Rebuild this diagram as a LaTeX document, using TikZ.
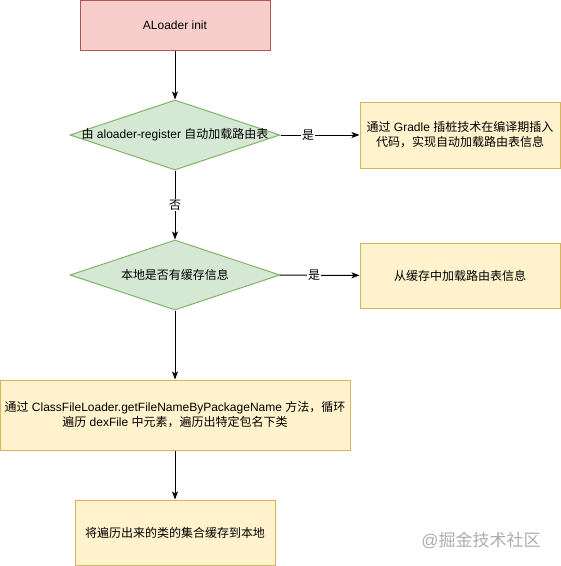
\documentclass[tikz,border=0pt]{standalone}
\usepackage{fontspec}
\setmainfont{Liberation Sans}
\newfontfamily\cjk{Noto Sans CJK SC}
\newcommand{\zh}[1]{{\cjk #1}}
\usepackage{xcolor}
\usepackage{tikz}
\usetikzlibrary{positioning,arrows.meta,shapes.geometric}

\definecolor{startfill}{HTML}{F8CECC}
\definecolor{startdraw}{HTML}{B85450}
\definecolor{askfill}{HTML}{D5E8D4}
\definecolor{askdraw}{HTML}{82B366}
\definecolor{notefill}{HTML}{FFF2CC}
\definecolor{notedraw}{HTML}{D6B656}

\begin{document}
\begin{tikzpicture}[
    x=1pt, y=-1pt,
    font=\fontsize{12pt}{15pt}\selectfont,
    startbox/.style={draw=startdraw, fill=startfill, line width=1pt, minimum width=190pt, minimum height=50pt},
    decision/.style={diamond, draw=askdraw, fill=askfill, line width=1pt, aspect=3, inner sep=0pt, minimum width=210pt, minimum height=70pt},
    notebox/.style={draw=notedraw, fill=notefill, line width=1pt, minimum width=200pt, minimum height=65pt, align=center},
    connector/.style={-{Stealth[length=8pt, width=6pt, inset=2pt]}, line width=1pt},
    edgelabel/.style={fill=white, inner sep=1pt}
]
\useasboundingbox (0,0) rectangle (561,566);

% Start
\node[startbox] (init) at (175,25) {ALoader init};

% First decision - register plugin
\node[decision] (askreg) at (175,135) {};
\node (askregtext) at (askreg) {\zh{由} aloader-register \zh{自动加载路由表}};
\node[notebox, minimum height=66pt] (gradle) at (460,135) {\zh{通过} Gradle \zh{插桩技术在编译期插入}\\\zh{代码，实现自动加载路由表信息}};

% Second decision - local cache
\node[decision] (askcache) at (175,275) {};
\node (askcachetext) at (askcache) {\zh{本地是否有缓存信息}};
\node[notebox] (fromcache) at (460,275.5) {\zh{从缓存中加载路由表信息}};

% Scan dex files
\node[notebox, minimum width=350pt, minimum height=70pt] (scan) at (175,415) {\zh{通过} ClassFileLoader.getFileNameByPackageName \zh{方法，循环}\\\zh{遍历} dexFile \zh{中元素，遍历出特定包名下类}};

% Save to cache
\node[notebox] (save) at (175,532.5) {\zh{将遍历出来的类的集合缓存到本地}};

% Flow arrows
\draw[connector] (init) -- (askreg);
\draw[connector] (askreg) -- (gradle) node[edgelabel, pos=0.35] {\zh{是}};
\draw[connector] (askreg) -- (askcache) node[edgelabel, pos=0.5] {\zh{否}};
\draw[connector] (askcache) -- (fromcache) node[edgelabel, pos=0.43] {\zh{是}};
\draw[connector] (askcache) -- (scan);
\draw[connector] (scan) -- (save);

% Watermark
\node[text=black!32, font=\fontsize{17pt}{19pt}\selectfont] (mark) at (481,540) {@\zh{掘金技术社区}};
\end{tikzpicture}
\end{document}
